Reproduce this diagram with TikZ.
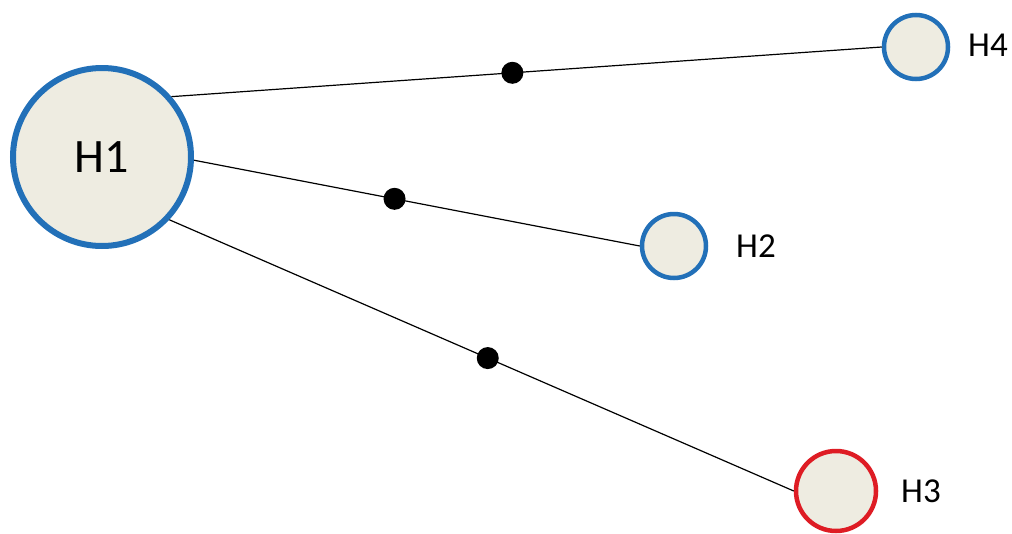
\documentclass[tikz,border=0pt]{standalone}
\usepackage{fontspec}
\setmainfont{Carlito}
\usepackage{tikz}
\usetikzlibrary{shapes.geometric, positioning}
\definecolor{hfill}{RGB}{238,236,225}
\definecolor{hblue}{RGB}{34,112,184}
\definecolor{hred}{RGB}{222,28,36}
\tikzset{
	host/.style={circle, draw=hblue, fill=hfill, line width=4.5pt, minimum size=64pt, inner sep=0pt},
	bighost/.style={host, line width=6pt, minimum size=178pt, font=\fontsize{48}{50}\selectfont},
	redhost/.style={host, draw=hred, minimum size=80pt},
	hlabel/.style={font=\fontsize{35}{40}\selectfont, inner sep=0pt},
	link/.style={line width=1.2pt, black},
	dot/.style={circle, fill=black, minimum size=22pt, inner sep=0pt}
}

\begin{document}
\begin{tikzpicture}[x=1pt,y=-1pt]
		\useasboundingbox (0,0) rectangle (1012,533);
		
		% Hosts
		\node[bighost] (H1) at (102,157) {H1};
		\node[host] (H4) at (916,47) {};
		\node[host] (H2) at (674,246) {};
		\node[redhost] (H3) at (836,491) {};
		
		% Nomes
		\node[hlabel] (L4) at (988,45) {H4};
		\node[hlabel] (L2) at (756,246) {H2};
		\node[hlabel] (L3) at (921,491) {H3};
		
		% Ligacoes
		\draw[link] (H1.41) -- node[dot, pos=0.48] (d1) {} (H4.west);
		\draw[link] (H1.-2) -- node[dot, pos=0.45] (d2) {} (H2.west);
		\draw[link] (H1.-43) -- node[dot, pos=0.51] (d3) {} (H3.west);
		
	\end{tikzpicture}
\end{document}
